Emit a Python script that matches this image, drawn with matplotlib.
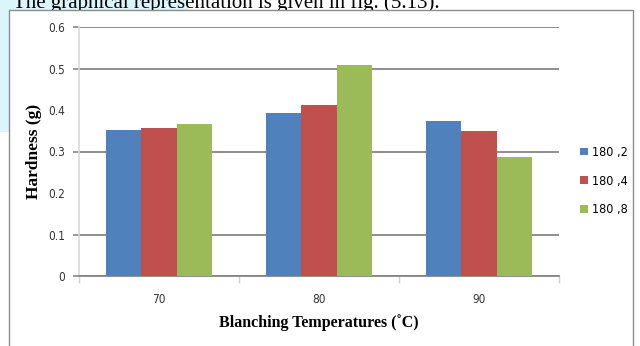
import matplotlib
matplotlib.use("Agg")
import matplotlib.pyplot as plt
import numpy as np
from matplotlib.patches import Rectangle

temperatures = ["70", "80", "90"]
series_names = ["180 ,2", "180 ,4", "180 ,8"]
hardness_2 = [0.352, 0.393, 0.373]
hardness_4 = [0.357, 0.412, 0.349]
hardness_8 = [0.366, 0.508, 0.287]
colors = ["#4f81bd", "#c0504d", "#9bbb59"]

sans = "DejaVu Sans"
serif = ["Liberation Serif", "DejaVu Serif"]

fig = plt.figure(figsize=(6.4, 3.46), dpi=100)
fig.patch.set_facecolor("white")

# page background behind the chart (light cyan strip)
fig.patches.append(Rectangle((0, 1 - 132 / 346), 9 / 640, 132 / 346, transform=fig.transFigure,
                             facecolor="#dcf5fb", edgecolor="none", zorder=0))
fig.patches.append(Rectangle((0, 1 - 10 / 346), 188 / 640, 10 / 346, transform=fig.transFigure,
                             facecolor="#dcf5fb", edgecolor="none", zorder=0))
fig.text(13 / 640, 1 - 8 / 346, "The graphical representation is given in fig. (5.13).",
         family=serif, fontsize=15, va="baseline", ha="left", zorder=1)

# chart frame
fig.patches.append(Rectangle((9 / 640, -0.05), 624 / 640, 1.05 - 10 / 346, transform=fig.transFigure,
                             facecolor="white", edgecolor="#8c8c8c", linewidth=1.0, zorder=2))

ax = fig.add_axes([79 / 640, 70 / 346, 480 / 640, 249 / 346])
ax.set_zorder(3)
ax.patch.set_alpha(0)

x = np.arange(len(temperatures))
w = 0.222
for i, vals in enumerate([hardness_2, hardness_4, hardness_8]):
    ax.bar(x + (i - 1) * w, vals, width=w, color=colors[i], label=series_names[i], zorder=3)

ax.set_xlim(-0.5, len(temperatures) - 0.5)
ax.set_ylim(0, 0.6)
ax.set_yticks(np.arange(0, 0.61, 0.1))
ax.set_yticklabels(["0", "0.1", "0.2", "0.3", "0.4", "0.5", "0.6"], family=sans, stretch="condensed",
                   fontsize=8.5, color="#333333")
ax.set_xticks(x)
ax.set_xticklabels(temperatures, family=sans, stretch="condensed", fontsize=8.5, color="#333333")
ax.set_xticks(np.arange(-0.5, len(temperatures), 1), minor=True)

ax.tick_params(axis="x", which="major", length=0, pad=12)
ax.tick_params(axis="x", which="minor", length=5, color="#d0d0d0", width=1)
ax.tick_params(axis="y", length=4, color="#868686", width=1.2, pad=6)

ax.yaxis.grid(True, color="#868686", linewidth=1.3, zorder=1)
ax.set_axisbelow(True)
# the thin lines at 0.2 and 0.4 are lost in the reference
for i in [2, 4]:
    ax.get_ygridlines()[i].set_visible(False)
    ax.yaxis.get_major_ticks()[i].tick1line.set_visible(False)

for s in ["top", "right"]:
    ax.spines[s].set_visible(False)
ax.spines["left"].set_color("#d9d9d9")
ax.spines["left"].set_linewidth(1.2)
ax.spines["bottom"].set_color("#868686")
ax.spines["bottom"].set_linewidth(1.3)

ax.set_ylabel("Hardness (g)", family=serif, fontweight="bold", fontsize=12.5)
ax.yaxis.set_label_coords(-37 / 480, (276 - 151) / 249)
ax.set_xlabel("Blanching Temperatures (˚C)", family=serif, fontweight="bold", fontsize=11.5)
ax.xaxis.set_label_coords(0.5, -(314 - 276) / 249)

handles, labels = ax.get_legend_handles_labels()
fig.legend(handles, labels, loc="center left", bbox_to_anchor=(569 / 640, 1 - 181 / 346),
           frameon=False, handlelength=0.6, handleheight=0.6, handletextpad=0.3,
           labelspacing=1.25, prop={"family": sans, "stretch": "condensed", "size": 9})

plt.savefig("out.png", dpi=100)
